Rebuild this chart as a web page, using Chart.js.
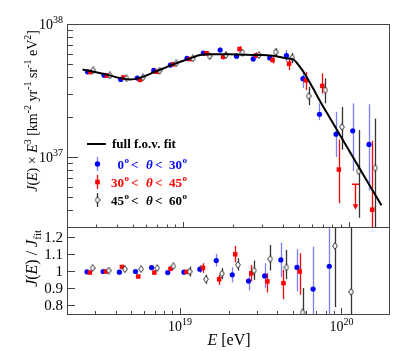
<!DOCTYPE html>
<html><head><meta charset="utf-8">
<script src="https://cdn.jsdelivr.net/npm/chart.js@4.4.0/dist/chart.umd.min.js"></script>
<style>
html,body{margin:0;padding:0;background:#fff;}
#wrap{position:relative;width:415px;height:351px;overflow:hidden;}
canvas{position:absolute;left:0;top:0;}
</style></head><body>
<div id="wrap"><canvas id="top" width="415" height="351"></canvas><canvas id="bot" width="415" height="351"></canvas></div>
<script>
// ---------------- data ----------------
const blueE  = [2.66e18,3.35e18,4.22e18,5.31e18,6.68e18,8.41e18,1.06e19,1.33e19,1.68e19,2.11e19,2.66e19,3.35e19,4.22e19,5.31e19,6.68e19,8.41e19,1.06e20,1.33e20];
const redE   = [2.77e18,3.48e18,4.38e18,5.52e18,6.95e18,8.75e18,1.10e19,1.39e19,1.75e19,2.20e19,2.77e19,3.48e19,4.38e19,5.52e19,6.95e19,8.75e19,1.10e20,1.39e20];
const blackE = [2.88e18,3.63e18,4.57e18,5.75e18,7.24e18,9.12e18,1.15e19,1.45e19,1.82e19,2.29e19,2.88e19,3.63e19,4.57e19,5.75e19,7.24e19,9.12e19,1.15e20,1.45e20];

const blueJ   = [4.38e37,4.12e37,3.84e37,3.93e37,4.49e37,4.92e37,5.52e37,6.05e37,6.38e37,5.74e37,5.47e37,5.57e37,5.80e37,3.89e37,2.10e37,1.49e37,1.58e37,1.25e37];
const blueJLo = [4.23e37,3.98e37,3.71e37,3.79e37,4.34e37,4.75e37,5.33e37,5.84e37,6.07e37,5.46e37,5.20e37,5.30e37,5.21e37,3.30e37,1.90e37,1.005e37,7.89e36,5.65e36];
const blueJHi = [4.53e37,4.26e37,3.97e37,4.07e37,4.65e37,5.09e37,5.71e37,6.26e37,6.70e37,6.03e37,5.74e37,5.85e37,6.38e37,4.51e37,2.54e37,2.19e37,2.54e37,2.50e37];

const redJ   = [4.36e37,4.10e37,3.97e37,3.81e37,4.38e37,4.99e37,5.46e37,6.03e37,5.68e37,6.49e37,5.82e37,5.36e37,5.03e37,3.78e37,3.43e37,8.09e36,null,4.05e36];
const redJLo = [4.21e37,3.96e37,3.84e37,3.68e37,4.23e37,4.82e37,5.27e37,5.82e37,5.41e37,6.18e37,5.54e37,5.06e37,4.51e37,3.19e37,3.01e37,4.53e36,null,1e36];
const redJHi = [4.51e37,4.24e37,4.11e37,3.94e37,4.53e37,5.16e37,5.65e37,6.24e37,5.96e37,6.81e37,6.11e37,5.68e37,5.55e37,4.38e37,4.26e37,1.36e37,null,1.33e37];
const redLimitE = [1.10e20];
const redLimitJ = [6.27e36];

const blackJ   = [4.49e37,4.11e37,3.91e37,3.97e37,4.46e37,5.07e37,5.52e37,5.74e37,5.85e37,6.11e37,5.85e37,6.15e37,5.60e37,2.88e37,3.19e37,1.69e37,7.85e36,8.32e36];
const blackJLo = [4.34e37,3.97e37,3.78e37,3.84e37,4.31e37,4.90e37,5.33e37,5.46e37,5.57e37,5.82e37,5.57e37,5.68e37,5.09e37,2.46e37,2.54e37,1.14e37,3.52e36,1e36];
const blackJHi = [4.65e37,4.25e37,4.05e37,4.11e37,4.62e37,5.25e37,5.71e37,6.03e37,6.14e37,6.42e37,6.14e37,6.56e37,6.05e37,3.38e37,3.91e37,2.39e37,1.60e37,1.95e37];

const fitE = [2.48e18,3.43e18,4.27e18,4.79e18,5.37e18,6.78e18,8.55e18,1.005e19,1.09e19,1.27e19,1.52e19,1.92e19,2.42e19,3.05e19,3.67e19,4.23e19,4.63e19,5.08e19,5.58e19,6.11e19,6.71e19,7.71e19,1.58e20];
const fitJ = [4.56e37,4.19e37,3.91e37,3.84e37,3.91e37,4.38e37,4.92e37,5.30e37,5.48e37,5.85e37,5.94e37,5.92e37,5.87e37,5.85e37,5.74e37,5.52e37,5.43e37,4.78e37,4.02e37,3.29e37,2.66e37,1.98e37,4.36e36];

const blueR   = [0.994,0.996,0.992,0.996,1.019,0.990,0.992,1.010,1.060,0.977,0.940,0.970,1.064,1.020,0.893,1.027];
const blueRLo = [0.986,0.988,0.984,0.988,1.010,0.981,0.983,0.988,1.025,0.932,0.885,0.899,0.963,0.879,0.70,0.70];
const blueRHi = [1.002,1.004,1.000,1.004,1.028,0.999,1.001,1.033,1.100,1.021,0.982,1.045,1.166,1.127,1.142,1.30];
const redR    = [0.990,0.996,1.023,0.967,0.990,1.012,0.994,1.018,0.951,1.097,0.986,0.938,0.928,0.996];
const redRLo  = [0.982,0.988,1.014,0.958,0.981,1.003,0.985,0.988,0.918,1.049,0.938,0.873,0.834,0.860];
const redRHi  = [0.998,1.004,1.032,0.976,0.999,1.021,1.003,1.045,0.977,1.146,1.035,0.986,1.006,1.103];
const blackR   = [1.016,1.002,1.010,1.010,1.016,1.027,0.996,0.951,0.984,1.035,1.002,1.070,1.020,0.756,null,1.146,0.877];
const blackRLo = [1.006,0.992,1.000,1.000,1.006,1.017,0.967,0.924,0.951,1.002,0.947,1.002,0.951,0.70,null,0.788,0.70];
const blackRHi = [1.026,1.012,1.020,1.020,1.026,1.037,1.025,0.977,1.016,1.074,1.060,1.152,1.123,0.899,null,1.30,1.30];

const xTickVals = [1e19, 1e20];
const xTickLabels = [['10','19'], ['10','20']];
const upperYTickVals = [1e37, 1e38];
const upperYTickLabels = [['10','37'], ['10','38']];
const lowerYTickVals = [0.8, 0.9, 1, 1.1, 1.2];
const lowerYTickLabels = ['0.8', '0.9', '1', '1.1', '1.2'];
const legendLabels = [['0','30'], ['30','45'], ['45','60']];
const fitLabel = 'full f.o.v. fit';

// ---------------- helpers ----------------
const FONT = '"Liberation Serif", "Times New Roman", serif';
const BLUE = '#0000ff', RED = '#ff0000';
function segFont(s, size){ const sz = (s.sup||s.sub) ? Math.round(size*0.68) : size; return (s.it?'italic ':'') + (s.b?'bold ':'') + sz + 'px ' + FONT; }
function richWidth(ctx, segs, size){ let w=0; for(const s of segs){ ctx.font=segFont(s,size); w+=ctx.measureText(s.t).width; } return w; }
function drawRich(ctx, segs, x, y, size, align, color){
  ctx.textAlign='left'; ctx.textBaseline='alphabetic'; if(color) ctx.fillStyle=color;
  const w = richWidth(ctx, segs, size);
  let cx = align==='right' ? x-w : align==='center' ? x-w/2 : x;
  for(const s of segs){ ctx.font=segFont(s,size); const dy = s.sup ? -size*0.42 : s.sub ? size*0.22 : 0; ctx.fillText(s.t, cx, y+dy); cx += ctx.measureText(s.t).width; }
  return cx;
}
function makeDiamond(){
  const c=document.createElement('canvas'); c.width=6; c.height=8;
  const g=c.getContext('2d'); g.beginPath(); g.moveTo(3,0.6); g.lineTo(5.4,4); g.lineTo(3,7.4); g.lineTo(0.6,4); g.closePath();
  g.fillStyle='#fff'; g.fill(); g.strokeStyle='#333'; g.lineWidth=1; g.stroke(); return c;
}
const DIAMOND = makeDiamond();
function pts(xs, ys){ return ys.map((v,i)=>({x:xs[i], y:v})); }
function logTicks(min,max){ const out=[]; for(let e=Math.floor(Math.log10(min)); e<=Math.ceil(Math.log10(max)); e++){ for(let m=1;m<10;m++){ const v=m*Math.pow(10,e); if(v>=min*0.999 && v<=max*1.001) out.push({v, major:m===1}); } } return out; }

const errorBars = {
  id:'errorBars',
  beforeDatasetsDraw(chart){
    const {ctx, chartArea:a, scales:{x,y}} = chart;
    ctx.save(); ctx.beginPath(); ctx.rect(a.left, a.top, a.right-a.left, a.bottom-a.top); ctx.clip();
    chart.data.datasets.forEach(ds => {
      if(!ds.errLo) return;
      ctx.strokeStyle = ds.errColor; ctx.lineWidth = 1.3;
      ds.data.forEach((p, j) => {
        if (ds.errLo[j]==null) return;
        const px = Math.round(x.getPixelForValue(p.x)) + 0.5;
        ctx.beginPath(); ctx.moveTo(px, y.getPixelForValue(ds.errLo[j])); ctx.lineTo(px, y.getPixelForValue(ds.errHi[j])); ctx.stroke();
      });
    });
    if (chart.canvas.id==='top'){
      ctx.strokeStyle=RED; ctx.fillStyle=RED; ctx.lineWidth=1.4;
      redLimitE.forEach((e,i)=>{
        const px = Math.round(x.getPixelForValue(e))+0.5, py = y.getPixelForValue(redLimitJ[i]);
        ctx.beginPath(); ctx.moveTo(px-3.5, py); ctx.lineTo(px+3.5, py); ctx.moveTo(px, py); ctx.lineTo(px, py+21); ctx.stroke();
        ctx.beginPath(); ctx.moveTo(px-2.8, py+20); ctx.lineTo(px+2.8, py+20); ctx.lineTo(px, py+25.5); ctx.closePath(); ctx.fill();
      });
    }
    ctx.restore();
  }
};

function drawFrameAndTicks(chart, o){
  const {ctx, chartArea:a, scales:{x,y}} = chart;
  ctx.save();
  ctx.strokeStyle='#444'; ctx.lineWidth=1;
  ctx.strokeRect(a.left+0.5, a.top+0.5, a.right-a.left-1, a.bottom-a.top);
  ctx.beginPath();
  logTicks(x.min, x.max).forEach(t=>{ const px=Math.round(x.getPixelForValue(t.v))+0.5; if(px<a.left+1||px>a.right-1) return; const L=t.major?o.xMaj:o.xMin; ctx.moveTo(px,a.bottom); ctx.lineTo(px,a.bottom-L); });
  o.yTicks.forEach(t=>{ const py=Math.round(y.getPixelForValue(t.v))+0.5; const L=t.major?o.yMaj:o.yMin; ctx.moveTo(a.left,py); ctx.lineTo(a.left+L,py); });
  ctx.stroke();
  ctx.restore();
}

// ---------------- upper chart ----------------
const topDecor = {
  id:'topDecor',
  afterDraw(chart){
    const {ctx, scales:{x,y}} = chart;
    const yt = logTicks(y.min, y.max);
    drawFrameAndTicks(chart, {xMaj:5, xMin:2.5, yMaj:11, yMin:6, yTicks:yt});
    ctx.save();
    upperYTickVals.forEach((v,i)=>{ const py=y.getPixelForValue(v); drawRich(ctx,[{t:upperYTickLabels[i][0]},{t:upperYTickLabels[i][1],sup:true}],63,py+5,14,'right','#000'); });
    ctx.translate(37, 30); ctx.rotate(-Math.PI/2);
    drawRich(ctx,[{t:'J',it:true},{t:'('},{t:'E',it:true},{t:') × '},{t:'E',it:true},{t:'3',sup:true},{t:' [km'},{t:'-2',sup:true},{t:' yr'},{t:'-1',sup:true},{t:' sr'},{t:'-1',sup:true},{t:' eV'},{t:'2',sup:true},{t:']'}],0,0,14,'right','#000');
    ctx.restore();
    // legend
    ctx.save();
    ctx.strokeStyle='#000'; ctx.lineWidth=2; ctx.beginPath(); ctx.moveTo(87,144); ctx.lineTo(106,144); ctx.stroke();
    drawRich(ctx,[{t:fitLabel,b:true}],112,148,13,'left','#000');
    const rows=[{y:164,c:BLUE,ec:'rgba(40,40,255,0.6)',m:'c'},{y:182,c:RED,ec:RED,m:'s'},{y:200,c:'#000',ec:'#333',m:'d'}];
    rows.forEach((r,i)=>{
      ctx.strokeStyle=r.ec; ctx.lineWidth=1.3; ctx.beginPath(); ctx.moveTo(97.5,r.y-7); ctx.lineTo(97.5,r.y+7); ctx.stroke();
      ctx.fillStyle=r.c;
      if(r.m==='c'){ ctx.beginPath(); ctx.arc(97.5,r.y,2.7,0,Math.PI*2); ctx.fill(); }
      else if(r.m==='s'){ ctx.fillRect(95.2,r.y-2.3,4.6,4.6); }
      else { ctx.drawImage(DIAMOND, 94.5, r.y-4); }
      const lab = legendLabels[i];
      let cx = drawRich(ctx,[{t:lab[0],b:true}],124,r.y+4.5,13,'right',r.c);
      drawRich(ctx,[{t:'o',b:true,sup:true}],cx+0.5,r.y+4.5,13,'left',r.c);
      drawRich(ctx,[{t:'<',b:true}],131,r.y+4.5,13,'left',r.c);
      drawRich(ctx,[{t:'θ',b:true,it:true}],146,r.y+4.5,13,'left',r.c);
      cx = drawRich(ctx,[{t:'<  '+lab[1],b:true}],155,r.y+4.5,13,'left',r.c);
      drawRich(ctx,[{t:'o',b:true,sup:true}],cx+0.5,r.y+4.5,13,'left',r.c);
    });
    ctx.restore();
  }
};

new Chart(document.getElementById('top'), {
  type:'scatter',
  data:{ datasets:[
    {type:'line', data:pts(fitE,fitJ), borderColor:'#000', borderWidth:2, pointRadius:0, cubicInterpolationMode:'monotone', fill:false, order:0},
    {data:pts(blueE,blueJ), errLo:blueJLo, errHi:blueJHi, errColor:'rgba(40,40,255,0.6)', pointStyle:'circle', pointRadius:2.6, backgroundColor:BLUE, borderWidth:0, order:3},
    {data:pts(redE,redJ), errLo:redJLo, errHi:redJHi, errColor:RED, pointStyle:'rect', pointRadius:3.2, backgroundColor:RED, borderWidth:0, order:2},
    {data:pts(blackE,blackJ), errLo:blackJLo, errHi:blackJHi, errColor:'#333', pointStyle:DIAMOND, order:1}
  ]},
  options:{
    responsive:false, animation:false, events:[],
    layout:{padding:{left:67,right:25,top:24,bottom:124}},
    plugins:{legend:{display:false}, tooltip:{enabled:false}},
    scales:{
      x:{type:'logarithmic', min:2e18, max:1.78e20, display:false},
      y:{type:'logarithmic', min:3e36, max:1e38, display:false}
    }
  },
  plugins:[errorBars, topDecor]
});

// ---------------- lower chart ----------------
const botDecor = {
  id:'botDecor',
  afterDraw(chart){
    const {ctx, scales:{x,y}} = chart;
    drawFrameAndTicks(chart, {xMaj:6, xMin:3, yMaj:8, yMin:4, yTicks:lowerYTickVals.map(v=>({v,major:true}))});
    ctx.save();
    lowerYTickVals.forEach((v,i)=>{ const py=y.getPixelForValue(v); drawRich(ctx,[{t:lowerYTickLabels[i]}],63,py+5,15,'right','#000'); });
    xTickVals.forEach((v,i)=>{ const px=x.getPixelForValue(v); drawRich(ctx,[{t:xTickLabels[i][0]},{t:xTickLabels[i][1],sup:true}],px,331,14,'center','#000'); });
    drawRich(ctx,[{t:'E',it:true},{t:' [eV]'}],229,345,16,'center','#000');
    ctx.translate(37, 230); ctx.rotate(-Math.PI/2);
    drawRich(ctx,[{t:'J',it:true},{t:'('},{t:'E',it:true},{t:') / '},{t:'J',it:true},{t:'fit',sub:true}],0,0,16,'right','#000');
    ctx.restore();
  }
};

new Chart(document.getElementById('bot'), {
  type:'scatter',
  data:{ datasets:[
    {data:pts(blueE,blueR), errLo:blueRLo, errHi:blueRHi, errColor:'rgba(40,40,255,0.6)', pointStyle:'circle', pointRadius:2.6, backgroundColor:BLUE, borderWidth:0, order:3},
    {data:pts(redE,redR), errLo:redRLo, errHi:redRHi, errColor:RED, pointStyle:'rect', pointRadius:3.2, backgroundColor:RED, borderWidth:0, order:2},
    {data:pts(blackE,blackR), errLo:blackRLo, errHi:blackRHi, errColor:'#333', pointStyle:DIAMOND, order:1}
  ]},
  options:{
    responsive:false, animation:false, events:[],
    layout:{padding:{left:67,right:25,top:227,bottom:37}},
    plugins:{legend:{display:false}, tooltip:{enabled:false}},
    scales:{
      x:{type:'logarithmic', min:2e18, max:2e20, display:false},
      y:{type:'linear', min:0.747, max:1.257, display:false}
    }
  },
  plugins:[errorBars, botDecor]
});
</script>
</body></html>
